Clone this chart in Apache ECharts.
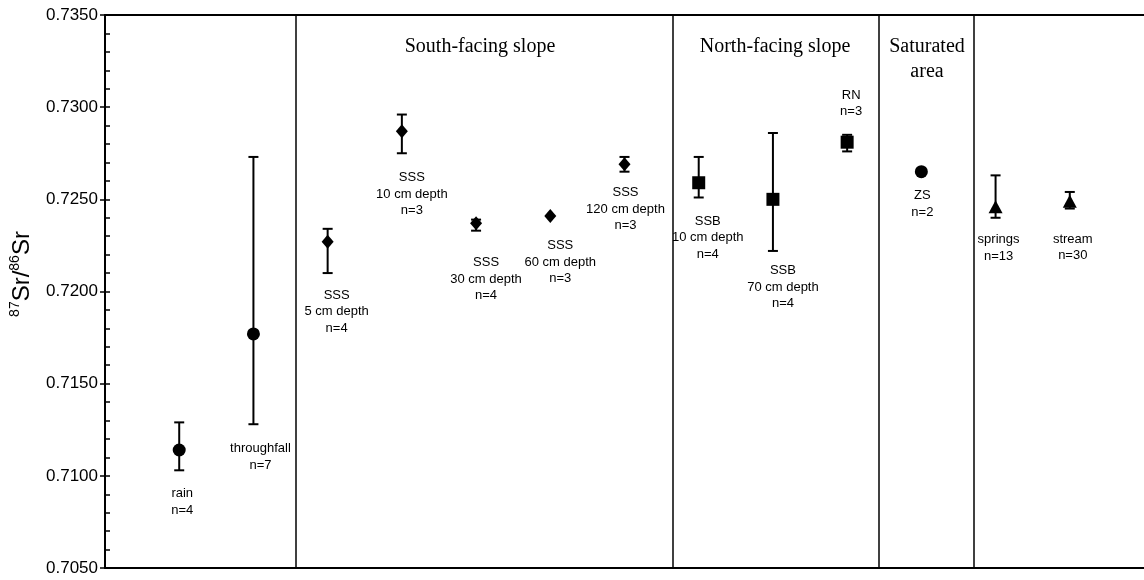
<!DOCTYPE html>
<html>
<head>
<meta charset="utf-8">
<script src="https://cdn.jsdelivr.net/npm/echarts@6/dist/echarts.min.js"></script>
<style>
  html, body { margin: 0; padding: 0; background: #fff; }
  #chart { width: 1144px; height: 580px; }
</style>
</head>
<body>
<div id="chart"></div>
<script>
// sample groups, left to right
const labels = [
  'rain\nn=4',
  'throughfall\nn=7',
  'SSS\n5 cm depth\nn=4',
  'SSS\n10 cm depth\nn=3',
  'SSS\n30 cm depth\nn=4',
  'SSS\n60 cm depth\nn=3',
  'SSS\n120 cm depth\nn=3',
  'SSB\n10 cm depth\nn=4',
  'SSB\n70 cm depth\nn=4',
  'RN\nn=3',
  'ZS\nn=2',
  'springs\nn=13',
  'stream\nn=30'
];
const means = [0.7114, 0.7177, 0.7227, 0.7287, 0.7237, 0.7241, 0.7269, 0.7259, 0.7250, 0.7281, 0.7265, 0.7246, 0.7249];
const upper = [0.7129, 0.7273, 0.7234, 0.7296, 0.7239, null, 0.7273, 0.7273, 0.7286, 0.7285, null, 0.7263, 0.7254];
const lower = [0.7103, 0.7128, 0.7210, 0.7275, 0.7233, null, 0.7265, 0.7251, 0.7222, 0.7276, null, 0.7240, 0.7245];
const shapes = ['circle', 'circle', 'diamond', 'diamond', 'diamond', 'diamond', 'diamond',
  'rect', 'rect', 'rect', 'circle', 'triangle', 'triangle'];
// boundaries between the site groups (x units)
const dividers = [2.57, 7.65, 10.43, 11.70];
const sections = ['South-facing slope', 'North-facing slope', 'Saturated\narea'];

// label placement, px from the marker centre (layout only)
const labelOffsets = [[3, 52], [7, 123], [9, 70], [10, 63], [10, 56], [10, 46], [1, 45],
  [9, 55], [10, 88], [4, -39], [1, 32], [3, 41], [3, 46]];
const symbolSizes = {circle: 13, diamond: [12, 14], rect: 13, triangle: [14, 13]};

const chart = echarts.init(document.getElementById('chart'));

const font = 'Liberation Sans, Arial, sans-serif';
const serif = 'Liberation Serif, Times New Roman, serif';

const points = means.map((m, i) => ({
  value: [i + 1, m],
  symbol: shapes[i],
  symbolSize: symbolSizes[shapes[i]],
  label: {offset: labelOffsets[i]}
}));

const bars = [];
means.forEach((m, i) => {
  if (upper[i] != null) bars.push([i + 1, upper[i], lower[i]]);
});

chart.setOption({
  animation: false,
  grid: {left: 105, right: 0, top: 15, bottom: 12},
  xAxis: [
    {
      type: 'value', min: 0, max: 14, position: 'bottom',
      axisLine: {lineStyle: {color: '#000', width: 2}},
      axisTick: {show: false}, axisLabel: {show: false}, splitLine: {show: false}
    },
    {
      type: 'value', min: 0, max: 14, position: 'top',
      axisLine: {lineStyle: {color: '#000', width: 2}},
      axisTick: {show: false}, axisLabel: {show: false}, splitLine: {show: false}
    }
  ],
  yAxis: [
    {
      type: 'value', min: 0.705, max: 0.735, interval: 0.005, position: 'left',
      axisLine: {show: true, lineStyle: {color: '#000', width: 2}},
      axisTick: {show: true, length: 5, lineStyle: {color: '#000', width: 1.5}},
      axisLabel: {
        color: '#000', fontSize: 17, fontFamily: font, margin: 7,
        formatter: v => v.toFixed(4)
      },
      splitLine: {show: false}
    },
    {
      type: 'value', min: 0.705, max: 0.735, interval: 0.005, position: 'left',
      axisLine: {show: false},
      axisTick: {show: true, inside: true, length: 5, lineStyle: {color: '#000', width: 1.5}},
      minorTick: {show: true, splitNumber: 5, length: 5, lineStyle: {color: '#000', width: 1.5}},
      axisLabel: {show: false},
      splitLine: {show: false}
    }
  ],
  graphic: [
    {
      type: 'text', x: 22, y: 274, rotation: Math.PI / 2,
      style: {
        text: '{sup|87}{n|Sr/}{sup|86}{n|Sr}',
        align: 'center', verticalAlign: 'middle',
        rich: {
          n: {fontSize: 24, fontFamily: font, fill: '#000', lineHeight: 28},
          sup: {fontSize: 14, fontFamily: font, fill: '#000', verticalAlign: 'top', lineHeight: 28}
        }
      }
    },
    {
      type: 'text', x: 480, y: 47,
      style: {text: sections[0], font: '20px ' + serif, fill: '#000', align: 'center', verticalAlign: 'middle'}
    },
    {
      type: 'text', x: 775, y: 47,
      style: {text: sections[1], font: '20px ' + serif, fill: '#000', align: 'center', verticalAlign: 'middle'}
    },
    {
      type: 'text', x: 927, y: 59,
      style: {text: sections[2], font: '20px ' + serif, fill: '#000', align: 'center', verticalAlign: 'middle', lineHeight: 25}
    }
  ],
  series: [
    {
      type: 'custom',
      xAxisIndex: 0, yAxisIndex: 0,
      data: bars,
      z: 2,
      renderItem: function (params, api) {
        const x = api.value(0);
        const top = api.coord([x, api.value(1)]);
        const bot = api.coord([x, api.value(2)]);
        const w = 5;
        const st = {stroke: '#000', lineWidth: 2};
        return {
          type: 'group',
          children: [
            {type: 'line', shape: {x1: top[0], y1: top[1], x2: bot[0], y2: bot[1]}, style: st},
            {type: 'line', shape: {x1: top[0] - w, y1: top[1], x2: top[0] + w, y2: top[1]}, style: st},
            {type: 'line', shape: {x1: bot[0] - w, y1: bot[1], x2: bot[0] + w, y2: bot[1]}, style: st}
          ]
        };
      }
    },
    {
      type: 'scatter',
      xAxisIndex: 0, yAxisIndex: 0,
      data: points,
      z: 3,
      itemStyle: {color: '#000', opacity: 1},
      label: {
        show: true, position: 'inside', color: '#000',
        fontSize: 13, lineHeight: 16.5, fontFamily: font, align: 'center',
        formatter: p => labels[p.dataIndex]
      },
      markLine: {
        silent: true, symbol: 'none', animation: false,
        label: {show: false},
        lineStyle: {color: '#000', width: 1.5, type: 'solid'},
        data: dividers.map(d => ({xAxis: d}))
      }
    }
  ]
});
</script>
</body>
</html>
